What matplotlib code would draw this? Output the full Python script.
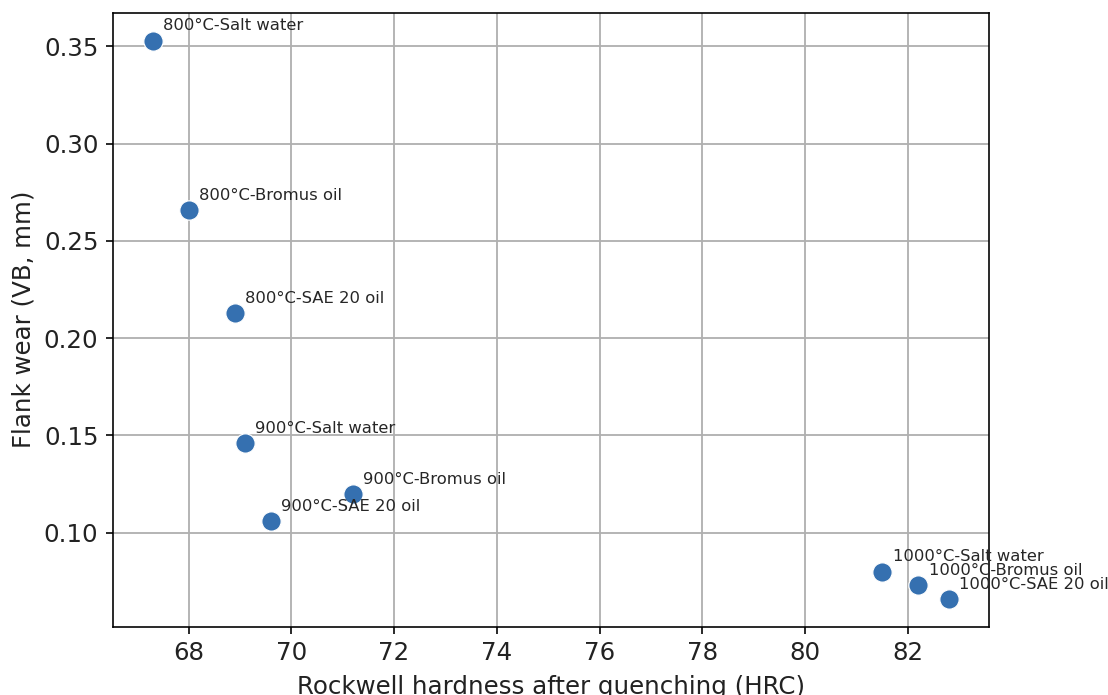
import matplotlib
matplotlib.use("Agg")
import matplotlib.pyplot as plt

labels = ["800°C-Salt water", "800°C-Bromus oil", "800°C-SAE 20 oil",
          "900°C-Salt water", "900°C-Bromus oil", "900°C-SAE 20 oil",
          "1000°C-Salt water", "1000°C-Bromus oil", "1000°C-SAE 20 oil"]
hardness = [67.3, 68.0, 68.9, 69.1, 71.2, 69.6, 81.5, 82.2, 82.8]
wear = [0.353, 0.266, 0.213, 0.146, 0.120, 0.106, 0.080, 0.073, 0.066]

dpi = 147
fig = plt.figure(figsize=(1108 / dpi, 695 / dpi), dpi=dpi)
ax = fig.add_axes([112.7 / 1108, (695 - 626.7) / 695,
                   (989 - 112.7) / 1108, (626.7 - 12.7) / 695])
ax.scatter(hardness, wear, s=90, color="#3570b0", edgecolors="white",
           linewidths=0.6, zorder=3)
for x, y, t in zip(hardness, wear, labels):
    ax.annotate(t, (x, y), xytext=(5, 5), textcoords="offset points",
                fontsize=8, color="#262626")
ax.set_xticks([68, 70, 72, 74, 76, 78, 80, 82])
ax.set_yticks([0.10, 0.15, 0.20, 0.25, 0.30, 0.35])
ax.tick_params(labelsize=12, labelcolor="#222222")
ax.grid(True, color="#b0b0b0", linewidth=0.9)
ax.set_axisbelow(True)
ax.set_xlabel("Rockwell hardness after quenching (HRC)", fontsize=12,
              color="#222222", labelpad=5)
ax.set_ylabel("Flank wear (VB, mm)", fontsize=12, color="#222222")
fig.savefig("out.png", dpi=dpi)
